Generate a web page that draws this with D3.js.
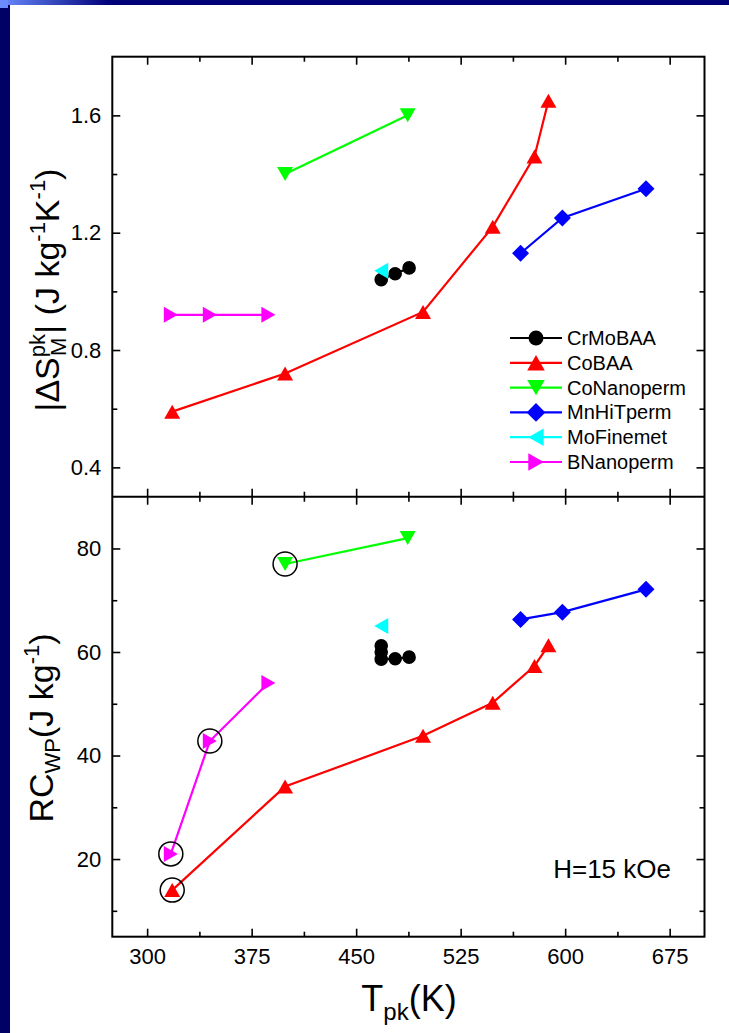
<!DOCTYPE html>
<html>
<head>
<meta charset="utf-8">
<script src="https://cdn.jsdelivr.net/npm/d3@7"></script>
<style>
  body { margin: 0; background: #fff; }
  svg { display: block; font-family: Arial, "Liberation Sans", sans-serif; }
</style>
</head>
<body>
<svg width="729" height="1033"></svg>
<script>
// tick values
const xTicks = [300, 375, 450, 525, 600, 675];
const xMinor = [337.5, 412.5, 487.5, 562.5, 637.5];
const topYTicks = [0.4, 0.8, 1.2, 1.6];
const topYMinor = [0.6, 1.0, 1.4];
const botYTicks = [20, 40, 60, 80];
const botYMinor = [10, 30, 50, 70];

// series: T_pk (K), |dS_M^pk| (J/kg K), RC_WP (J/kg)
const crMoTopT = [468, 478, 488];
const crMoTopS = [1.04, 1.06, 1.08];
const crMoBotT = [468, 468, 468, 478, 488];
const crMoBotRC = [61.2, 60.0, 58.6, 58.7, 59.0];

const coBaaT = [318, 399, 498, 548, 578, 588];
const coBaaS = [0.59, 0.72, 0.93, 1.22, 1.46, 1.65];
const coBaaRC = [14.0, 34.0, 43.8, 50.2, 57.3, 61.3];

const coNanoT = [399, 487];
const coNanoS = [1.40, 1.60];
const coNanoRC = [77.0, 82.0];

const mnHiT = [568, 598, 658];
const mnHiS = [1.13, 1.25, 1.35];
const mnHiRC = [66.3, 67.7, 72.1];

const moFineT = [468];
const moFineS = [1.07];
const moFineRC = [65.0];

const bNanoT = [317, 345, 387];
const bNanoS = [0.92, 0.92, 0.92];
const bNanoRC = [21.0, 42.8, 54.0];

const circledT = [318, 317, 345, 399];
const circledRC = [14.0, 21.0, 42.8, 77.0];

const series = [
  { name: 'CrMoBAA', color: '#000000', shape: 'circle', topT: crMoTopT, topV: crMoTopS, botT: crMoBotT, botV: crMoBotRC },
  { name: 'CoBAA', color: '#ff0000', shape: 'up', topT: coBaaT, topV: coBaaS, botT: coBaaT, botV: coBaaRC },
  { name: 'CoNanoperm', color: '#00ff00', shape: 'down', topT: coNanoT, topV: coNanoS, botT: coNanoT, botV: coNanoRC },
  { name: 'MnHiTperm', color: '#0000ff', shape: 'diamond', topT: mnHiT, topV: mnHiS, botT: mnHiT, botV: mnHiRC },
  { name: 'MoFinemet', color: '#00ffff', shape: 'left', topT: moFineT, topV: moFineS, botT: moFineT, botV: moFineRC },
  { name: 'BNanoperm', color: '#ff00ff', shape: 'right', topT: bNanoT, topV: bNanoS, botT: bNanoT, botV: bNanoRC }
];

const svg = d3.select('svg');

// slide background bars
const defs = svg.append('defs');
const grad = defs.append('linearGradient').attr('id', 'topbar')
  .attr('x1', 0).attr('x2', 1).attr('y1', 0).attr('y2', 0);
grad.append('stop').attr('offset', 0).attr('stop-color', '#6a8cff');
grad.append('stop').attr('offset', 0.15).attr('stop-color', '#000077');
grad.append('stop').attr('offset', 1).attr('stop-color', '#000077');
svg.append('rect').attr('x', 0).attr('y', 0).attr('width', 729).attr('height', 5).attr('fill', 'url(#topbar)');
svg.append('rect').attr('x', 0).attr('y', 5).attr('width', 10).attr('height', 1028).attr('fill', '#000066');
svg.append('rect').attr('x', 0).attr('y', 0).attr('width', 8).attr('height', 8).attr('fill', '#6a8cff');

const L = 112.3, R = 704.5, T0 = 56.7, MID = 496.7, B = 936.7;

const x = d3.scaleLinear().domain([275, 700]).range([L, R]);
const yTop = d3.scaleLinear().domain([0.3, 1.8]).range([MID, T0]);
const yBot = d3.scaleLinear().domain([5, 90]).range([B, MID]);

const tickFont = 22;

function styleAxis(g) {
  g.select('.domain').remove();
  g.selectAll('line').attr('stroke', '#000').attr('stroke-width', 1.6);
  g.selectAll('text').attr('font-size', tickFont).attr('fill', '#000')
    .attr('font-family', 'Arial, "Liberation Sans", sans-serif');
}

function addAxes(y, yMajor, yMinor, y0, y1, fmt, showX) {
  // left
  svg.append('g').attr('transform', `translate(${L},0)`)
    .call(d3.axisLeft(y).tickValues(yMajor).tickSize(-8).tickPadding(11).tickFormat(fmt))
    .call(styleAxis);
  svg.append('g').attr('transform', `translate(${L},0)`)
    .call(d3.axisLeft(y).tickValues(yMinor).tickSize(-5).tickFormat(''))
    .call(styleAxis);
  // right
  svg.append('g').attr('transform', `translate(${R},0)`)
    .call(d3.axisRight(y).tickValues(yMajor).tickSize(-8).tickFormat(''))
    .call(styleAxis);
  svg.append('g').attr('transform', `translate(${R},0)`)
    .call(d3.axisRight(y).tickValues(yMinor).tickSize(-5).tickFormat(''))
    .call(styleAxis);
  // bottom (ticks up)
  svg.append('g').attr('transform', `translate(0,${y0})`)
    .call(d3.axisBottom(x).tickValues(xTicks).tickSize(-8).tickPadding(12).tickFormat(showX ? d3.format('d') : ''))
    .call(styleAxis);
  svg.append('g').attr('transform', `translate(0,${y0})`)
    .call(d3.axisBottom(x).tickValues(xMinor).tickSize(-5).tickFormat(''))
    .call(styleAxis);
  // top (ticks down)
  svg.append('g').attr('transform', `translate(0,${y1})`)
    .call(d3.axisTop(x).tickValues(xTicks).tickSize(-8).tickFormat(''))
    .call(styleAxis);
  svg.append('g').attr('transform', `translate(0,${y1})`)
    .call(d3.axisTop(x).tickValues(xMinor).tickSize(-5).tickFormat(''))
    .call(styleAxis);
}

addAxes(yTop, topYTicks, topYMinor, MID, T0, d3.format('.1f'), false);
addAxes(yBot, botYTicks, botYMinor, B, MID, d3.format('d'), true);

// frames
svg.append('rect').attr('x', L).attr('y', T0).attr('width', R - L).attr('height', B - T0)
  .attr('fill', 'none').attr('stroke', '#000').attr('stroke-width', 2);
svg.append('line').attr('x1', L).attr('x2', R).attr('y1', MID).attr('y2', MID)
  .attr('stroke', '#000').attr('stroke-width', 2);

function markerPath(shape, k) {
  const s = k || 1;
  const p = (pts) => 'M' + pts.map(q => [q[0] * s, q[1] * s].join(',')).join('L') + 'Z';
  switch (shape) {
    case 'up': return p([[0, -7], [8, 7], [-8, 7]]);
    case 'down': return p([[0, 7], [8, -7], [-8, -7]]);
    case 'left': return p([[-7, 0], [7, -8], [7, 8]]);
    case 'right': return p([[7, 0], [-7, -8], [-7, 8]]);
    case 'diamond': return p([[0, -8.5], [8.5, 0], [0, 8.5], [-8.5, 0]]);
    default: return d3.symbol(d3.symbolCircle, Math.PI * 6.8 * 6.8 * s * s)();
  }
}

function drawPanel(y, key) {
  const g = svg.append('g');
  series.forEach(s => {
    const ts = s[key + 'T'], vs = s[key + 'V'];
    const pts = ts.map((t, i) => [t, vs[i]]);
    const line = d3.line().x(d => x(d[0])).y(d => y(d[1]));
    g.append('path').datum(pts)
      .attr('fill', 'none').attr('stroke', s.color).attr('stroke-width', 2.2)
      .attr('d', line);
    g.selectAll(null).data(pts).enter().append('path')
      .attr('transform', d => `translate(${x(d[0])},${y(d[1])})`)
      .attr('d', markerPath(s.shape))
      .attr('fill', s.color);
  });
}

drawPanel(yTop, 'top');
drawPanel(yBot, 'bot');

// rings around selected points
svg.append('g').selectAll('circle').data(circledT.map((t, i) => [t, circledRC[i]])).enter()
  .append('circle')
  .attr('cx', d => x(d[0])).attr('cy', d => yBot(d[1])).attr('r', 12)
  .attr('fill', 'none').attr('stroke', '#000').attr('stroke-width', 1.5);

// legend
const leg = svg.append('g').attr('transform', 'translate(510,338)');
series.forEach((s, i) => {
  const row = leg.append('g').attr('transform', `translate(0,${i * 24.8})`);
  row.append('line').attr('x1', 0).attr('x2', 52).attr('y1', 0).attr('y2', 0)
    .attr('stroke', s.color).attr('stroke-width', 2.2);
  row.append('path').attr('transform', 'translate(26,0)').attr('d', markerPath(s.shape, 1.1)).attr('fill', s.color);
  row.append('text').attr('x', 57).attr('y', 7).attr('font-size', 20).text(s.name);
});

// annotation
svg.append('text').attr('x', 671).attr('y', 878).attr('text-anchor', 'end')
  .attr('font-size', 26).text('H=15 kOe');

// axis titles
const big = 34, small = 22;
const tTop = svg.append('text')
  .attr('transform', 'translate(59,290) rotate(-90)')
  .attr('text-anchor', 'middle').attr('font-size', big);
tTop.append('tspan').text('|\u0394S');
tTop.append('tspan').attr('font-size', small).attr('dy', -14).text('pk');
tTop.append('tspan').attr('font-size', small).attr('dx', -22).attr('dy', 21).text('M');
tTop.append('tspan').attr('dx', 4).attr('dy', -7).text('| (J kg');
tTop.append('tspan').attr('font-size', small).attr('dy', -14).text('-1');
tTop.append('tspan').attr('dy', 14).text('K');
tTop.append('tspan').attr('font-size', small).attr('dy', -14).text('-1');
tTop.append('tspan').attr('dy', 14).text(')');

const tBot = svg.append('text')
  .attr('transform', 'translate(53,728) rotate(-90)')
  .attr('text-anchor', 'middle').attr('font-size', big);
tBot.append('tspan').text('RC');
tBot.append('tspan').attr('font-size', small).attr('dy', 7).text('WP');
tBot.append('tspan').attr('dy', -7).text('(J kg');
tBot.append('tspan').attr('font-size', small).attr('dy', -14).text('-1');
tBot.append('tspan').attr('dy', 14).text(')');

const tX = svg.append('text')
  .attr('x', 409).attr('y', 1011)
  .attr('text-anchor', 'middle').attr('font-size', 36);
tX.append('tspan').text('T');
tX.append('tspan').attr('font-size', 24).attr('dy', 9).text('pk');
tX.append('tspan').attr('dy', -9).text('(K)');
</script>
</body>
</html>
